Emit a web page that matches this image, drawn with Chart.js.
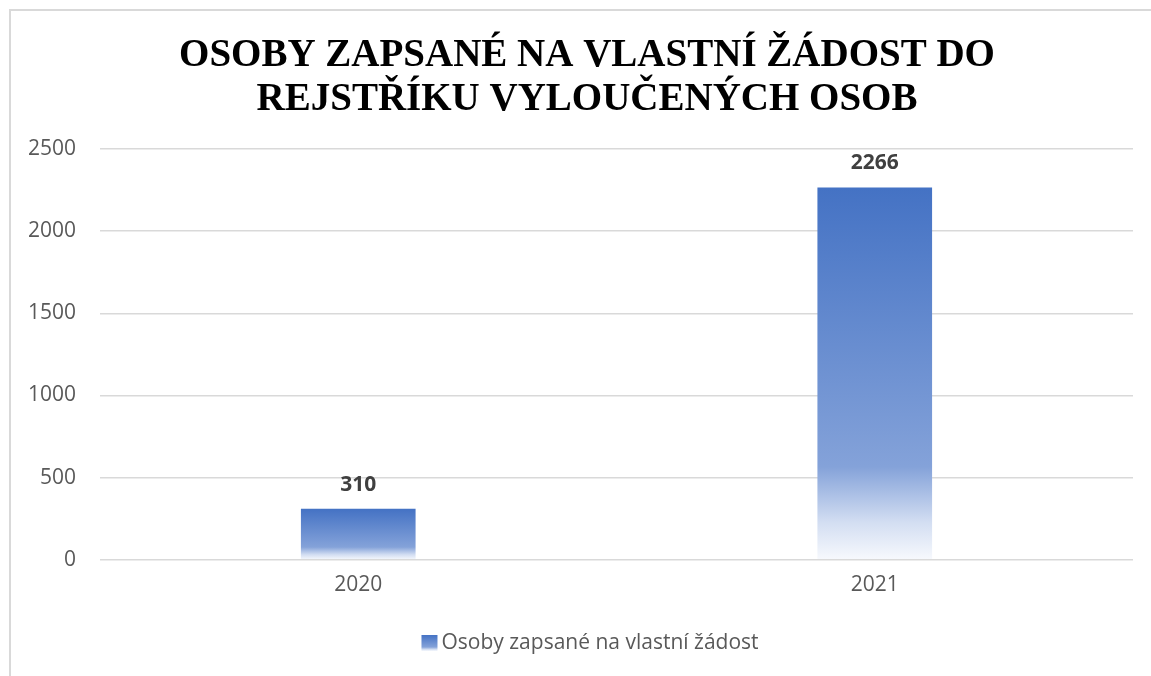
<!DOCTYPE html>
<html>
<head>
<meta charset="utf-8">
<script src="https://cdn.jsdelivr.net/npm/chart.js@4/dist/chart.umd.min.js"></script>
<style>
    html, body { margin: 0; padding: 0; background: #fff; overflow: hidden; }
    .wrap { position: relative; width: 1151px; height: 676px; }
    .frame { position: absolute; left: 9px; top: 9px; width: 1200px; height: 700px; border-left: 2px solid #d9d9d9; border-top: 2px solid #d9d9d9; }
    canvas { position: absolute; left: 0; top: 0; }
</style>
</head>
<body>
<div class="wrap">
    <div class="frame"></div>
    <canvas class="bar_chart" width="1151" height="676"></canvas>
</div>
<script>
const years = ['2020', '2021'];
const zapsane = [310, 2266];
const series_name = 'Osoby zapsané na vlastní žádost';
const title_lines = ['OSOBY ZAPSANÉ NA VLASTNÍ ŽÁDOST DO', 'REJSTŘÍKU VYLOUČENÝCH OSOB'];

const fontSans = "'Open Sans', 'Liberation Sans', sans-serif";

function addStops(g) {
    g.addColorStop(0, '#4472C4');
    g.addColorStop(0.75, '#84A2D9');
    g.addColorStop(0.9, '#D3DEF2');
    g.addColorStop(1, '#F7F9FD');
    return g;
}

// title, value labels and legend drawn by hand (Excel look)
const decor = {
    id: 'decor',
    afterDatasetsDraw(chart) {
        const { ctx } = chart;
        const meta = chart.getDatasetMeta(0);
        ctx.save();
        ctx.font = 'bold 21px ' + fontSans;
        ctx.fillStyle = '#404040';
        ctx.textAlign = 'center';
        ctx.textBaseline = 'middle';
        meta.data.forEach((bar, i) => {
            ctx.fillText(String(chart.data.datasets[0].data[i]), bar.x, bar.y - 24);
        });
        ctx.restore();
    },
    afterDraw(chart) {
        const { ctx } = chart;
        ctx.save();
        // title
        ctx.font = "bold 39px 'Times New Roman', 'Liberation Serif', serif";
        ctx.fillStyle = '#000';
        ctx.textAlign = 'center';
        ctx.textBaseline = 'middle';
        ctx.fillText(title_lines[0], 587, 56);
        ctx.fillText(title_lines[1], 587, 100);
        // legend
        ctx.font = '21px ' + fontSans;
        const tw = ctx.measureText(series_name).width;
        const total = 16 + 4 + tw;
        const x0 = 590 - total / 2;
        const y0 = 643;
        const g = ctx.createLinearGradient(0, y0 - 8, 0, y0 + 8);
        ctx.fillStyle = addStops(g);
        ctx.fillRect(x0, y0 - 8, 16, 16);
        ctx.fillStyle = '#595959';
        ctx.textAlign = 'left';
        ctx.fillText(series_name, x0 + 20, y0);
        ctx.restore();
    },
};

const ctx = document.querySelector('.bar_chart').getContext('2d');

const bar_chart = new Chart(ctx, {
    type: 'bar',
    data: {
        labels: years,
        datasets: [{
            label: series_name,
            data: zapsane,
            backgroundColor(c) {
                const chart = c.chart;
                if (!chart.chartArea || c.type !== 'data') return '#4472C4';
                const y = chart.scales.y;
                const top = y.getPixelForValue(c.raw);
                const bottom = y.getPixelForValue(0);
                return addStops(chart.ctx.createLinearGradient(0, top, 0, bottom));
            },
            barPercentage: 0.222,
            categoryPercentage: 1,
        }],
    },
    options: {
        responsive: false,
        animation: false,
        layout: { padding: { left: 0, right: 18, top: 149, bottom: 73 } },
        scales: {
            x: {
                grid: { display: false },
                border: { display: false },
                ticks: { color: '#595959', font: { family: fontSans, size: 21 }, padding: 5 },
            },
            y: {
                min: 0,
                max: 2500,
                ticks: {
                    stepSize: 500,
                    color: '#595959',
                    font: { family: fontSans, size: 21 },
                    padding: 24,
                    callback: (v) => String(v),
                },
                grid: { color: '#d9d9d9', lineWidth: 1.5, drawTicks: false },
                border: { display: false },
                afterFit(s) { s.width = 100; },
            },
        },
        plugins: {
            title: { display: false },
            legend: { display: false },
            tooltip: { enabled: false },
        },
    },
    plugins: [decor],
});
</script>
</body>
</html>
